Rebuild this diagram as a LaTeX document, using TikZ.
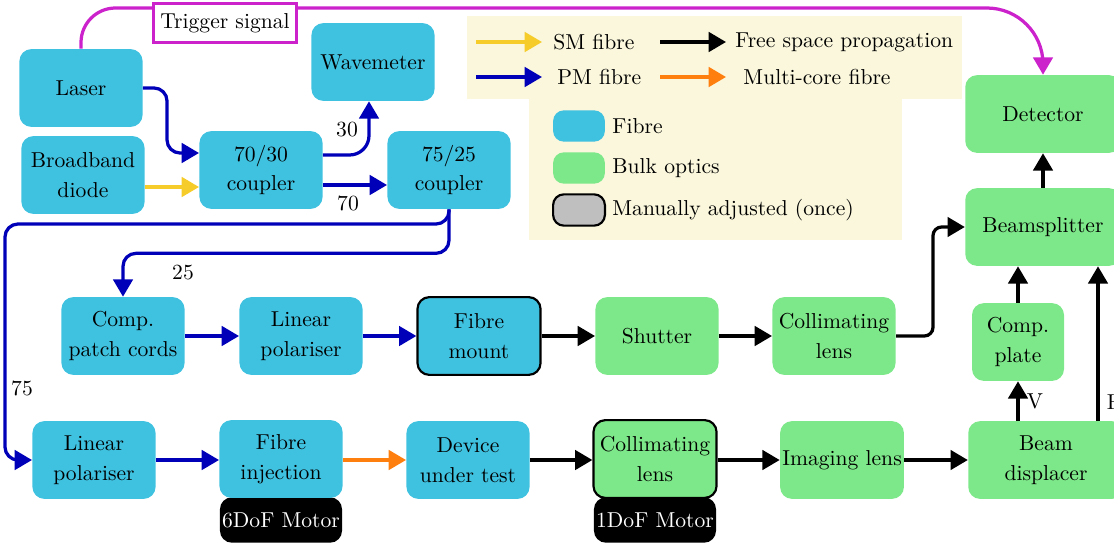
\documentclass[tikz,border=0pt]{standalone}
\usepackage{tikz}
\usetikzlibrary{arrows.meta}
\usetikzlibrary{calc}
\definecolor{fibrecol}{RGB}{63,193,224}
\definecolor{bulkcol}{RGB}{125,232,137}
\definecolor{legendcol}{RGB}{250,247,220}
\definecolor{smcol}{RGB}{245,204,42}
\definecolor{pmcol}{RGB}{0,0,184}
\definecolor{mccol}{RGB}{255,127,14}
\definecolor{trigcol}{RGB}{204,34,204}

\begin{document}
\begin{tikzpicture}[x=0.463pt, y=-0.463pt, >={Triangle[length=8pt,width=9pt]},
    box/.style = {rounded corners=5.5pt, minimum width=57pt, minimum height=36pt, inner sep=1pt, align=center, font=\linespread{1.15}\selectfont},
    fibre/.style = {box, fill=fibrecol},
    bulk/.style = {box, fill=bulkcol},
    manual/.style = {draw=black, line width=1pt},
    motor/.style = {rounded corners=5.5pt, fill=black, text=white, minimum width=56.5pt, minimum height=21pt, inner sep=0pt},
    swatch/.style = {rounded corners=5pt, minimum width=24pt, minimum height=14.5pt, inner sep=0pt},
    legtext/.style = {anchor=west, inner sep=0pt},
    sm/.style = {->, smcol, line width=1.5pt},
    pm/.style = {->, pmcol, line width=1.5pt, rounded corners=6pt},
    mc/.style = {->, mccol, line width=1.5pt},
    fs/.style = {->, black, line width=1.5pt, rounded corners=4pt},
    trig/.style = {->, trigcol, line width=1.5pt}]
    \useasboundingbox (0,0) rectangle (1114,544);

    % Legend
    \fill[legendcol] (467,16) rectangle (962,99);
    \fill[legendcol] (529,99) rectangle (902,240);
    \coordinate (smA) at (476,42);   \coordinate (smB) at (542,42);
    \coordinate (fsA) at (660,42);   \coordinate (fsB) at (726,42);
    \coordinate (pmA) at (476,77);   \coordinate (pmB) at (542,77);
    \coordinate (mcA) at (660,77);   \coordinate (mcB) at (726,77);
    \draw[sm] (smA) -- (smB);
    \draw[fs] (fsA) -- (fsB);
    \draw[pm] (pmA) -- (pmB);
    \draw[mc] (mcA) -- (mcB);
    \node[legtext] (smtext) at (553,42) {SM fibre};
    \node[legtext] (fstext) at (735,42) {Free space propagation};
    \node[legtext] (pmtext) at (557,77) {PM fibre};
    \node[legtext] (mctext) at (743,77) {Multi-core fibre};
    \node[swatch, fill=fibrecol] (swfib) at (579,126) {};
    \node[swatch, fill=bulkcol] (swbulk) at (579,168) {};
    \node[swatch, fill=black!25, draw=black, line width=1pt] (swman) at (579,210) {};
    \node[legtext] (fibtext) at (612,126) {Fibre};
    \node[legtext] (bulktext) at (612,168) {Bulk optics};
    \node[legtext] (mantext) at (612,210) {Manually adjusted (once)};

    % Nodes
    \node[fibre] (laser) at (81,88) {Laser};
    \node[fibre] (bbd) at (83,175) {Broadband\\diode};
    \node[fibre] (c7030) at (261,170) {70/30\\coupler};
    \node[fibre] (wm) at (373,62) {Wavemeter};
    \node[fibre] (c7525) at (449,170) {75/25\\coupler};

    \node[fibre] (pcords) at (123,336) {Comp.\\patch cords};
    \node[fibre] (lpola) at (301,336) {Linear\\polariser};
    \node[fibre, manual] (fmount) at (479,336) {Fibre\\mount};
    \node[bulk] (shutter) at (657,336) {Shutter};
    \node[bulk] (colla) at (834,336) {Collimating\\lens};

    \node[motor] (m6) at (281,520) {6DoF Motor};
    \node[motor] (m1) at (655,520) {1DoF Motor};
    \node[fibre] (lpolb) at (94,460) {Linear\\polariser};
    \node[fibre] (finj) at (281,459) {Fibre\\injection};
    \node[fibre] (dut) at (468,460) {Device\\under test};
    \node[bulk, manual] (collb) at (655,459) {Collimating\\lens};
    \node[bulk] (imgl) at (842,460) {Imaging lens};

    \node[bulk, minimum width=72pt] (bdisp) at (1046,460) {Beam\\displacer};
    \node[bulk, minimum width=42.6pt] (cplate) at (1018,342) {Comp.\\plate};
    \node[bulk, minimum width=72pt] (bs) at (1043,227) {Beamsplitter};
    \node[bulk, minimum width=72pt] (det) at (1043,114) {Detector};

    % Edges
    \coordinate (in1) at ($(c7030.west)+(0,-17)$);
    \coordinate (in2) at ($(c7030.west)+(0,17)$);
    \coordinate (out1) at ($(c7030.east)+(0,-15)$);
    \coordinate (out2) at ($(c7030.east)+(0,15)$);
    \draw[pm] (laser.east) -| ($(in1)+(-32,0)$) -- (in1);
    \draw[sm] (bbd.east |- in2) -- (in2);
    \draw[pm, rounded corners=9pt] (out1) -| ($(wm.south)+(-4,0)$);
    \draw[pm] (out2) -- (c7525.west |- out2);
    \node at (347,130) {30};
    \node at (348,203) {70};

    \coordinate (loop) at (5,224);
    \draw[pm] (c7525.south) |- (loop) |- (lpolb.west);
    \draw[pm] (c7525.south) -- ++(0,44) -| (pcords.north);
    \node at (183,273) {25};
    \node at (22,388) {75};

    \draw[pm] (pcords) -- (lpola);
    \draw[pm] (lpola) -- (fmount);
    \draw[fs] (fmount) -- (shutter);
    \draw[fs] (shutter) -- (colla);
    \draw[fs] (colla.east) -- ++(37,0) |- (bs.west);

    \draw[pm] (lpolb) -- (finj.west |- lpolb);
    \draw[mc] (finj.east |- dut) -- (dut);
    \draw[fs] (dut) -- (collb.west |- dut);
    \draw[fs] (collb.east |- imgl) -- (imgl);
    \draw[fs] (imgl) -- (bdisp);

    \coordinate (hport) at ($(bdisp.north)+(52,0)$);
    \draw[fs] (bdisp.north -| cplate) -- node[right] {V} (cplate);
    \draw[fs] (cplate.north) -- (cplate.north |- bs.south);
    \draw[fs] (hport) -- node[pos=0.12, right] {H} (hport |- bs.south);
    \draw[fs] (bs) -- (det);

    \coordinate (tc) at (600,8);
    \draw[trig] (laser.north) [rounded corners=16pt] |- (tc) [rounded corners=26pt] -| (det.north);
    \node[draw=trigcol, line width=1.5pt, fill=white, minimum width=66pt, minimum height=18pt] (trigger) at (225,23) {Trigger signal};
\end{tikzpicture}
\end{document}
